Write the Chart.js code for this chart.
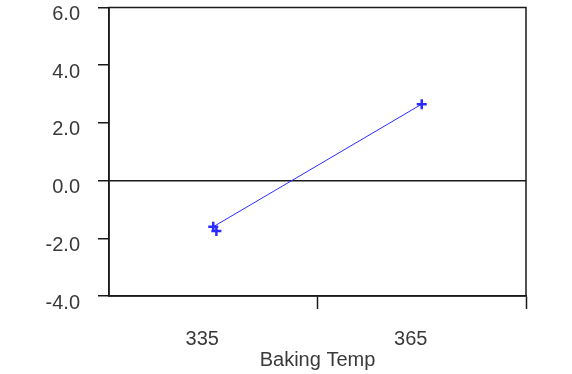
<!DOCTYPE html>
<html>
<head>
<meta charset="utf-8">
<script src="https://cdn.jsdelivr.net/npm/chart.js@4/dist/chart.umd.min.js"></script>
<style>
  html, body { margin:0; padding:0; background:#fff; }
  #wrap { width:572px; height:374px; position:relative; }
</style>
</head>
<body>
<div id="wrap"><canvas id="c"></canvas></div>
<script>
// ── data ──
const TEMPS      = ["335", "365"];
const EFFECT     = [-1.6, 2.65];              // main effect line
const REPLICATE  = [{ x: 335.45, y: -1.75 }]; // second marker at 335 (the "#" look)
const Y_TICKS    = [-4, -2, 0, 2, 4, 6];

const INK  = "#1a1a1a";
const TXT  = "#3a3a3a";
const BLUE = "#2b2bff";
const FONT = "'Liberation Sans', Arial, sans-serif";

// frame around the plot area (top + right edges)
const framePlugin = {
  id: "frame",
  afterDraw(chart) {
    const { ctx, chartArea: a } = chart;
    ctx.save();
    ctx.strokeStyle = INK;
    ctx.lineWidth = 1.5;
    ctx.strokeRect(a.left, a.top, a.right - a.left, a.bottom - a.top);
    ctx.restore();
  }
};

new Chart(document.getElementById("c"), {
  type: "line",
  data: {
    labels: TEMPS,
    datasets: [
      {
        data: EFFECT,
        borderColor: BLUE, backgroundColor: BLUE,
        borderWidth: 1,
        pointStyle: "cross", pointRadius: 5, pointBorderWidth: 2.5,
        pointHoverRadius: 5,
      },
      {
        type: "scatter",
        xAxisID: "x2",
        data: REPLICATE,
        borderColor: BLUE, backgroundColor: BLUE,
        pointStyle: "cross", pointRadius: 5, pointBorderWidth: 2.5,
        showLine: false,
      },
    ],
  },
  options: {
    responsive: true,
    maintainAspectRatio: false,
    animation: false,
    layout: { padding: { left: 0, right: 46, top: 7, bottom: 2 } },
    plugins: { legend: { display: false }, tooltip: { enabled: false } },
    scales: {
      x: {
        type: "category",
        offset: true,
        afterFit: s => { s.height = 76; },
        grid: {
          offset: true, drawOnChartArea: false, tickLength: 13,
          tickColor: ctx => ctx.index === 0 ? "transparent" : INK, tickWidth: 1.5,
        },
        border: { color: INK, width: 1.5 },
        ticks: { color: TXT, font: { family: FONT, size: 20 }, padding: 18, labelOffset: -11, maxRotation: 0 },
        title: {
          display: true, text: "Baking Temp", color: TXT,
          font: { family: FONT, size: 20 }, padding: { top: 0, bottom: 0 },
        },
      },
      x2: {
        type: "linear", display: false, min: 320, max: 380,
      },
      y: {
        min: -4, max: 6,
        afterBuildTicks: s => { s.ticks = Y_TICKS.map(v => ({ value: v })); },
        afterFit: s => { s.width = 109; s.paddingTop = 0; s.paddingBottom = 0; },
        grid: {
          tickLength: 11, tickWidth: 1.5, tickColor: INK,
          color: ctx => ctx.tick && ctx.tick.value === 0 ? INK : "transparent",
          lineWidth: 1.5,
        },
        border: { color: INK, width: 1.5 },
        ticks: {
          color: TXT, font: { family: FONT, size: 20 }, padding: 18, labelOffset: 7,
          callback: v => Number(v).toFixed(1),
        },
      },
    },
  },
  plugins: [framePlugin],
});
</script>
</body>
</html>
